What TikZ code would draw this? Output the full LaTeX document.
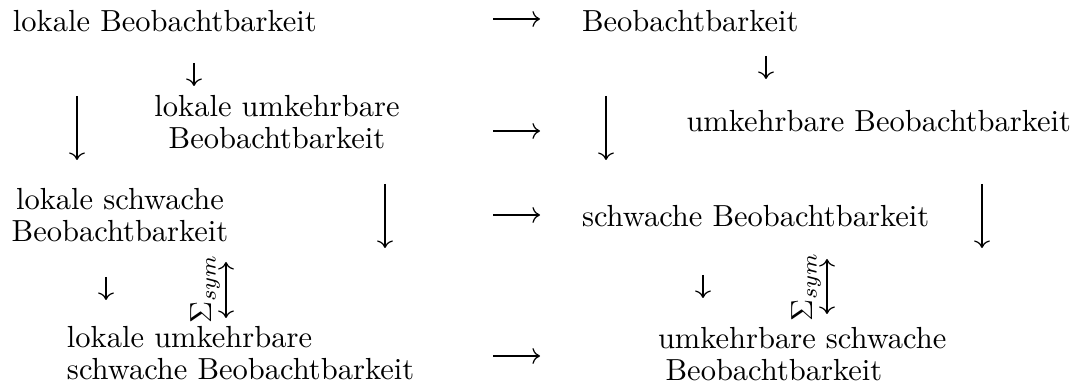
\documentclass[tikz,border=0pt]{standalone}
\usetikzlibrary{arrows.meta}
\begin{document}
\begin{tikzpicture}[x=0.32787pt, y=-0.32787pt,
  lbl/.style={inner sep=0pt, outer sep=0pt, font=\fontsize{10pt}{10.7pt}\selectfont},
  arr/.style={-{Computer Modern Rightarrow}, line width=0.4pt},
  darr/.style={{Computer Modern Rightarrow}-{Computer Modern Rightarrow}, line width=0.4pt}]
\useasboundingbox (0,0) rectangle (1084,392);

% left column
\node[lbl, anchor=base west] (lb) at (13,32) {lokale Beobachtbarkeit};
\node[lbl, anchor=north, align=center] (lub) at (277,95) {lokale umkehrbare\\Beobachtbarkeit};
\node[lbl, anchor=north, align=center] (lsb) at (120,188) {lokale schwache\\Beobachtbarkeit};
\node[lbl, anchor=north west, align=left] (lusb) at (67,326) {lokale umkehrbare\\schwache Beobachtbarkeit};

% right column
\node[lbl, anchor=base west] (b) at (582,32) {Beobachtbarkeit};
\node[lbl, anchor=base east] (ub) at (1071,132) {umkehrbare Beobachtbarkeit};
\node[lbl, anchor=base west] (sb) at (582,227) {schwache Beobachtbarkeit};
\node[lbl, anchor=north west, align=left] (usb) at (658,327) {umkehrbare schwache\\\hspace*{2.5pt}Beobachtbarkeit};

% symmetry labels
\node[lbl, rotate=90, anchor=base] (sl) at (211,289) {$\Sigma_{sym}$};
\node[lbl, rotate=90, anchor=base] (sr) at (812,287) {$\Sigma_{sym}$};

% horizontal implications
\coordinate (h1s) at (493,19);  \coordinate (h1e) at (540,19);
\coordinate (h2s) at (493,131); \coordinate (h2e) at (540,131);
\coordinate (h3s) at (493,215); \coordinate (h3e) at (540,215);
\coordinate (h4s) at (493,356); \coordinate (h4e) at (540,356);
\draw[arr] (h1s) -- (h1e);
\draw[arr] (h2s) -- (h2e);
\draw[arr] (h3s) -- (h3e);
\draw[arr] (h4s) -- (h4e);

% short vertical implications
\coordinate (a1s) at (194,63);  \coordinate (a1e) at (194,86);
\coordinate (a2s) at (766,56);  \coordinate (a2e) at (766,79);
\coordinate (a3s) at (106,277); \coordinate (a3e) at (106,300);
\coordinate (a4s) at (703,275); \coordinate (a4e) at (703,298);
\draw[arr] (a1s) -- (a1e);
\draw[arr] (a2s) -- (a2e);
\draw[arr] (a3s) -- (a3e);
\draw[arr] (a4s) -- (a4e);

% long vertical implications
\coordinate (l1s) at (77,96);   \coordinate (l1e) at (77,160);
\coordinate (l2s) at (606,96);  \coordinate (l2e) at (606,160);
\coordinate (l3s) at (385,184); \coordinate (l3e) at (385,248);
\coordinate (l4s) at (982,184); \coordinate (l4e) at (982,248);
\draw[arr] (l1s) -- (l1e);
\draw[arr] (l2s) -- (l2e);
\draw[arr] (l3s) -- (l3e);
\draw[arr] (l4s) -- (l4e);

% equivalences under symmetry
\coordinate (d1s) at (226,262); \coordinate (d1e) at (226,318);
\coordinate (d2s) at (827,259); \coordinate (d2e) at (827,314);
\draw[darr] (d1s) -- (d1e);
\draw[darr] (d2s) -- (d2e);
\end{tikzpicture}
\end{document}
